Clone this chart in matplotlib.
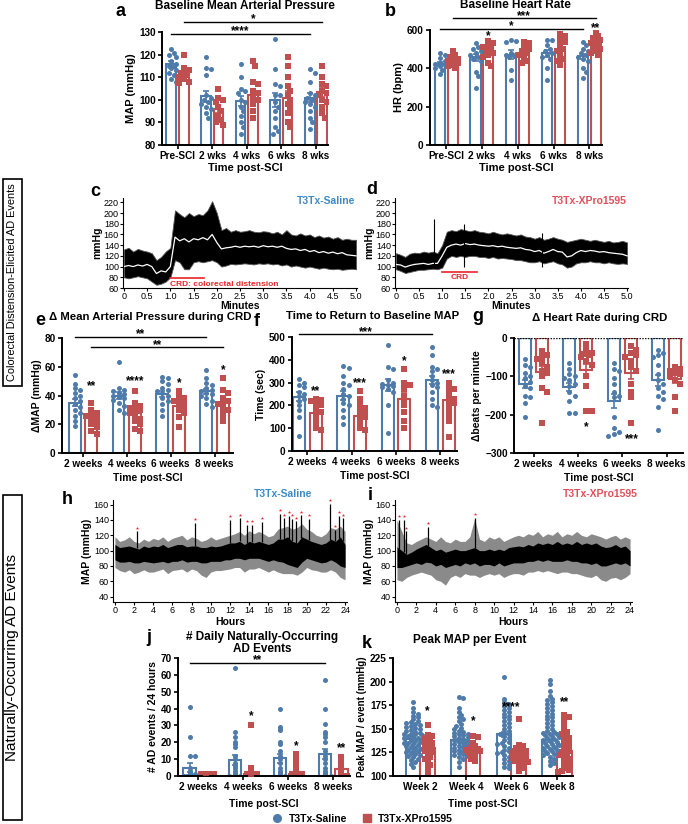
import numpy as np
import matplotlib
matplotlib.use("Agg")
import matplotlib.pyplot as plt
from matplotlib.lines import Line2D
from matplotlib.patches import Rectangle

plt.rcParams['font.family'] = ['Liberation Sans', 'DejaVu Sans']

BLUE = '#4f7bab'
RED = '#c0504f'
W, H = 688, 824

# ---------------- data ----------------
# a: baseline MAP
a_groups = ['Pre-SCI', '2 wks', '4 wks', '6 wks', '8 wks']
a_sal = [[122.5, 120.5, 120, 119, 117, 116, 115, 115, 114, 113, 112, 111, 109, 108],
         [119, 114, 113.5, 111, 102, 101, 100, 99, 98, 97, 96, 94, 92],
         [116, 110, 105, 104, 103, 100, 99, 97, 95, 93, 90, 88, 85],
         [127, 113.5, 107, 106, 102, 102, 99, 97, 95, 92, 88, 86, 85],
         [113.5, 112, 108, 103, 102, 101, 100, 99, 98, 97, 95, 92, 90, 87]]
a_xpro = [[120, 114, 113, 112, 111, 110, 109, 108, 107.5],
          [105, 101, 100, 99, 97, 95, 93, 91, 90, 89],
          [117, 115, 108, 107, 104, 103, 101, 100, 98, 95, 92],
          [119, 115, 110, 106, 104, 102, 100, 98, 96, 94, 90, 88],
          [115, 110, 107, 106, 104, 103, 102, 100, 99, 97, 94, 92]]
a_sal_mean = [116, 101.5, 99.5, 100, 101]
a_sal_sem = [1.2, 2.5, 2.2, 3.0, 1.8]
a_xpro_mean = [112.5, 96, 102, 101, 103.5]
a_xpro_sem = [1.2, 1.8, 2.5, 2.8, 2.2]

# b: baseline HR
b_groups = a_groups
b_sal = [[480, 470, 455, 440, 430, 425, 420, 410, 400, 390, 370],
         [530, 510, 500, 490, 480, 470, 460, 450, 440, 380, 360, 300],
         [550, 545, 540, 480, 475, 470, 465, 460, 390, 340],
         [550, 550, 520, 500, 490, 480, 470, 460, 450, 400, 340],
         [540, 520, 500, 490, 480, 470, 460, 450, 440, 400, 380, 350]]
b_xpro = [[490, 470, 460, 450, 445, 440, 430, 420, 410, 400],
          [545, 530, 520, 510, 500, 490, 480, 470, 460, 430, 410],
          [535, 530, 510, 500, 490, 480, 470, 460, 440, 430],
          [580, 570, 550, 540, 520, 500, 490, 470, 450, 440, 420],
          [590, 570, 560, 550, 540, 530, 520, 510, 500, 490, 480, 470]]
b_sal_mean = [422, 458, 472, 478, 462]
b_sal_sem = [10, 18, 22, 18, 15]
b_xpro_mean = [442, 492, 482, 500, 528]
b_xpro_sem = [10, 14, 12, 16, 12]

# c, d: example CRD traces (minutes, mmHg envelope + mean)
trace_min = [0.0, 0.1, 0.2, 0.3, 0.4, 0.5, 0.6, 0.7, 0.8, 0.9, 1.0, 1.1, 1.2, 1.3, 1.4, 1.5, 1.6,
             1.7, 1.8, 1.9, 2.0, 2.1, 2.2, 2.3, 2.4, 2.5, 2.6, 2.7, 2.8, 2.9, 3.0, 3.1, 3.2, 3.3,
             3.4, 3.5, 3.6, 3.7, 3.8, 3.9, 4.0, 4.1, 4.2, 4.3, 4.4, 4.5, 4.6, 4.7, 4.8, 4.9, 5.0]
c_hi = [132, 135, 128, 133, 130, 128, 125, 112, 118, 128, 135, 205, 198, 192, 200, 194, 198,
        196, 205, 222, 200, 168, 172, 165, 168, 165, 166, 168, 165, 164, 166, 165, 162, 165,
        160, 168, 160, 158, 162, 158, 160, 155, 158, 154, 156, 152, 155, 150, 152, 150, 150]
c_lo = [80, 78, 80, 82, 80, 78, 72, 66, 68, 72, 80, 112, 108, 95, 95, 108, 110,
        108, 110, 112, 108, 100, 102, 105, 104, 105, 106, 105, 104, 106, 105, 106, 104, 105,
        102, 104, 100, 102, 100, 98, 100, 98, 96, 98, 96, 95, 96, 94, 95, 96, 95]
c_mean = [100, 102, 100, 103, 101, 104, 100, 87, 92, 90, 100, 155, 148, 152, 146, 152, 150,
          154, 150, 160, 145, 133, 135, 136, 138, 136, 138, 137, 138, 136, 139, 137, 138, 136,
          138, 134, 132, 133, 130, 132, 128, 130, 126, 128, 125, 127, 124, 126, 122, 121, 120]
d_hi = [125, 122, 118, 124, 126, 125, 128, 126, 128, 125, 140, 165, 168, 166, 170, 168, 166,
        168, 165, 164, 162, 165, 162, 160, 162, 160, 158, 160, 156, 155, 152, 155, 150, 152,
        155, 152, 150, 146, 148, 150, 152, 150, 148, 150, 148, 146, 148, 145, 146, 148, 145]
d_lo = [95, 92, 88, 90, 92, 94, 94, 95, 96, 95, 98, 115, 120, 118, 120, 118, 120,
        120, 118, 118, 116, 118, 115, 116, 115, 114, 112, 112, 110, 108, 108, 110, 106, 108,
        110, 106, 104, 98, 100, 106, 108, 108, 110, 108, 108, 106, 108, 106, 105, 106, 105]
d_mean = [104, 103, 99, 102, 104, 105, 106, 104, 106, 106, 120, 136, 140, 142, 140, 143, 141,
          142, 140, 139, 138, 139, 137, 138, 136, 135, 134, 135, 132, 131, 128, 130, 125, 128,
          132, 128, 127, 118, 120, 126, 130, 128, 130, 129, 127, 128, 126, 125, 124, 123, 120]
d_spike_t = [0.83, 1.47, 3.15]
d_spike_v = [188, 180, 163]

# e: delta MAP during CRD
wk_groups = ['2 weeks', '4 weeks', '6 weeks', '8 weeks']
e_sal = [[54, 48, 45, 44, 42, 40, 38, 36, 34, 32, 30, 28, 26, 22, 19],
         [63, 45, 44, 43, 42, 41, 40, 39, 38, 37, 35, 33, 30, 28],
         [53, 52, 50, 48, 45, 44, 43, 42, 40, 38, 36, 34, 30, 26],
         [58, 52, 49, 47, 45, 44, 43, 42, 41, 40, 38, 36, 34, 32]]
e_xpro = [[35, 30, 28, 27, 26, 25, 24, 22, 20, 18, 15, 13],
          [43, 35, 33, 32, 31, 30, 29, 28, 26, 24, 22, 20, 17, 15],
          [43, 40, 38, 37, 36, 35, 34, 32, 30, 28, 25, 18],
          [52, 44, 42, 38, 36, 35, 34, 32, 30, 28, 25, 22]]
e_sal_mean = [35, 40, 41, 43]
e_sal_sem = [2.5, 2.3, 2.0, 1.8]
e_xpro_mean = [25, 27.5, 33, 35]
e_xpro_sem = [2.2, 2.0, 1.8, 2.5]

# f: time to return to baseline
f_sal = [[315, 300, 290, 280, 260, 250, 240, 230, 220, 200, 180, 150, 65],
         [375, 365, 330, 300, 290, 270, 250, 240, 230, 210, 200, 180, 150, 120],
         [465, 370, 360, 310, 300, 295, 290, 285, 280, 270, 260, 200, 80],
         [455, 420, 370, 360, 350, 330, 310, 300, 290, 280, 260, 230, 200, 195]]
f_xpro = [[230, 225, 220, 210, 200, 185, 170, 160, 140, 120, 100, 90],
          [265, 230, 200, 190, 180, 170, 160, 150, 140, 120, 100, 90],
          [360, 300, 290, 270, 240, 220, 200, 170, 130, 100],
          [300, 280, 270, 260, 240, 230, 220, 210, 200, 180, 160, 130, 60]]
f_sal_mean = [238, 243, 290, 310]
f_sal_sem = [20, 18, 25, 18]
f_xpro_mean = [165, 155, 230, 225]
f_xpro_sem = [14, 15, 25, 18]

# g: delta heart rate during CRD
g_sal = [[-55, -70, -75, -90, -100, -105, -115, -125, -130, -150, -155, -170, -205],
         [-65, -80, -95, -100, -105, -110, -120, -125, -140, -150, -165, -195, -195],
         [-65, -80, -85, -105, -120, -140, -150, -155, -205, -235, -245, -250, -255],
         [-30, -40, -45, -50, -70, -95, -110, -120, -130, -140, -150, -160, -180, -240]]
g_xpro = [[-35, -45, -50, -55, -65, -75, -85, -90, -100, -130, -140, -222],
          [-15, -30, -40, -42, -45, -50, -60, -70, -100, -125, -190, -190],
          [-20, -30, -40, -45, -50, -60, -75, -85, -120, -140, -155, -222],
          [-75, -80, -85, -90, -95, -100, -110, -120, -155, -190]]
g_sal_mean = [-120, -127, -165, -110]
g_sal_sem = [10, 10, 18, 14]
g_xpro_mean = [-88, -84, -90, -107]
g_xpro_sem = [15, 16, 17, 11]

# h, i: 24 h MAP traces (half-hour envelopes)
hours = [0.0, 0.5, 1.0, 1.5, 2.0, 2.5, 3.0, 3.5, 4.0, 4.5, 5.0, 5.5, 6.0, 6.5, 7.0, 7.5, 8.0, 8.5,
         9.0, 9.5, 10.0, 10.5, 11.0, 11.5, 12.0, 12.5, 13.0, 13.5, 14.0, 14.5, 15.0, 15.5, 16.0,
         16.5, 17.0, 17.5, 18.0, 18.5, 19.0, 19.5, 20.0, 20.5, 21.0, 21.5, 22.0, 22.5, 23.0, 23.5, 24.0]
h_out_hi = [118, 112, 114, 118, 112, 110, 115, 112, 116, 114, 118, 112, 116, 118, 120, 114, 118,
            116, 112, 114, 118, 114, 116, 118, 120, 122, 125, 120, 126, 122, 125, 122, 118, 120,
            128, 130, 132, 128, 130, 135, 128, 125, 120, 118, 122, 130, 128, 132, 125]
h_core_hi = [108, 104, 105, 106, 104, 102, 106, 104, 106, 105, 108, 104, 106, 108, 108, 105, 106,
             106, 104, 104, 106, 105, 106, 108, 110, 110, 112, 108, 112, 110, 112, 110, 108, 110,
             115, 115, 118, 112, 110, 118, 115, 112, 110, 108, 110, 115, 112, 118, 108]
h_core_lo = [88, 85, 85, 86, 84, 84, 86, 85, 84, 85, 86, 84, 86, 86, 88, 85, 86,
             86, 84, 84, 86, 86, 86, 88, 88, 90, 90, 88, 90, 90, 90, 88, 86, 88,
             86, 85, 82, 80, 78, 85, 90, 88, 86, 84, 85, 88, 85, 80, 78]
h_out_lo = [78, 74, 72, 75, 70, 72, 75, 72, 72, 74, 76, 70, 74, 75, 76, 72, 76,
            74, 68, 65, 72, 74, 74, 75, 76, 78, 78, 72, 76, 76, 78, 75, 72, 75,
            72, 70, 70, 70, 68, 72, 78, 75, 74, 72, 72, 75, 72, 65, 62]
h_event_t = [2.3, 8.4, 12.0, 13.0, 13.8, 14.3, 15.3, 17.2, 17.6, 18.2, 18.5, 18.9, 19.4, 20.2,
             22.4, 22.9, 23.4, 23.8]
h_event_v = [130, 141, 145, 147, 138, 138, 142, 153, 147, 150, 146, 143, 151, 146, 166, 132, 150, 147]

i_out_hi = [140, 125, 110, 108, 112, 115, 118, 115, 112, 118, 112, 110, 115, 112, 112, 118, 142,
            115, 112, 118, 115, 118, 112, 115, 118, 120, 118, 122, 120, 125, 118, 122, 120, 125,
            118, 122, 120, 125, 120, 118, 122, 120, 118, 115, 118, 120, 115, 118, 115]
i_core_hi = [105, 100, 95, 98, 102, 105, 108, 104, 100, 102, 98, 100, 102, 100, 100, 102, 104,
             100, 100, 102, 100, 102, 100, 104, 105, 106, 105, 108, 106, 110, 108, 110, 108, 112,
             108, 110, 108, 112, 108, 110, 108, 110, 106, 104, 105, 108, 104, 106, 100]
i_core_lo = [78, 78, 80, 82, 84, 82, 85, 84, 80, 82, 78, 80, 82, 80, 84, 82, 84,
             80, 82, 82, 80, 84, 80, 82, 84, 84, 84, 86, 86, 88, 86, 88, 86, 86,
             86, 88, 86, 86, 84, 84, 82, 84, 80, 80, 82, 84, 82, 84, 80]
i_out_lo = [62, 60, 65, 68, 70, 72, 70, 68, 62, 60, 55, 65, 68, 65, 70, 68, 68,
            65, 68, 70, 68, 70, 65, 68, 70, 70, 68, 72, 72, 74, 72, 74, 72, 70,
            72, 72, 70, 70, 68, 66, 65, 68, 62, 60, 64, 65, 62, 65, 70]
i_event_t = [0.25, 0.7, 0.9, 3.2, 8.0]
i_event_v = [145, 145, 130, 136, 148]

# j: daily naturally occurring AD events
j_sal = [[41, 23, 12, 12, 5, 3, 2, 1, 1, 0, 0, 0, 0, 0, 0],
         [64, 26, 23, 20, 19, 17, 12, 10, 8, 6, 5, 3, 2, 1, 0, 0, 0],
         [40, 29, 28, 27, 20, 19, 15, 12, 10, 8, 5, 3, 2, 1, 0, 0],
         [57, 40, 31, 26, 25, 23, 20, 15, 12, 10, 8, 5, 3, 2, 1, 0, 0]]
j_xpro = [[1, 1, 1, 1, 1, 1, 0, 0, 0, 0],
          [30, 5, 4, 3, 2, 1, 1, 0, 0, 0, 0],
          [13, 11, 8, 4, 3, 2, 1, 1, 0, 0, 0],
          [11, 9, 8, 6, 5, 4, 3, 2, 1, 0, 0]]
j_sal_mean = [5, 9.5, 10.5, 13]
j_sal_sem = [2.5, 3.2, 2.8, 3.2]
j_xpro_mean = [1, 2.5, 2.5, 4]
j_xpro_sem = [0.3, 2.5, 1.2, 1.0]

# k: peak MAP per event
k_groups = ['Week 2', 'Week 4', 'Week 6', 'Week 8']
k_sal = [[178, 172, 168, 166, 164, 162, 160, 158, 157, 156, 155, 154, 153, 152, 151, 150, 149, 148,
          147, 146, 145, 145, 144, 143, 142, 141, 140, 140, 139, 138, 137, 136, 135, 135, 134, 133,
          132, 131, 130, 129, 128, 127, 126, 125, 124, 123, 122, 121, 120, 118, 117, 115, 113, 110],
         [184, 183, 172, 168, 165, 162, 160, 158, 155, 153, 151, 150, 148, 147, 146, 145, 144, 143,
          142, 141, 140, 139, 138, 137, 136, 135, 134, 133, 132, 131, 130, 129, 128, 127, 126, 125,
          124, 123, 122, 121, 120, 118, 115, 110],
         [205, 182, 178, 176, 174, 172, 170, 168, 166, 164, 162, 160, 158, 156, 154, 152, 150, 148,
          146, 145, 144, 142, 140, 138, 136, 135, 134, 132, 130, 128, 126, 125, 124, 122, 120, 118,
          116, 114, 112, 110, 108],
         [202, 197, 190, 185, 182, 180, 178, 176, 174, 172, 170, 168, 166, 164, 162, 160, 158, 156,
          154, 152, 150, 148, 147, 146, 145, 144, 143, 142, 141, 140, 139, 138, 137, 136, 135, 134,
          133, 132, 131, 130, 129, 128, 127, 126, 125, 124, 123, 122, 120, 118, 116, 114, 112]]
k_xpro = [[154, 143, 142, 140, 138, 136, 135, 133, 131, 130, 128, 126, 125, 123, 120, 118, 115, 112, 108, 103],
          [142, 141, 135, 132, 130, 129, 128, 127, 126, 125, 124, 122, 120, 118, 116],
          [160, 133, 132, 130, 128, 127, 126, 125, 124, 122, 121, 120, 119, 118, 117, 116, 115, 114,
           112, 110, 108, 105],
          [165, 163, 160, 155, 150, 147, 145, 142, 140, 137, 135, 132, 130, 128, 126, 125, 123, 122,
           120, 118, 116, 114, 112, 110, 108, 106, 105, 104]]
k_sal_mean = [139, 138, 144, 138]
k_sal_sem = [1.2, 1.5, 2.2, 1.5]
k_xpro_mean = [130, 129, 122, 127]
k_xpro_sem = [2.5, 2.2, 2.0, 2.8]

# ---------------- helpers ----------------
fig = plt.figure(figsize=(W / 100, H / 100), dpi=100)


def px_axes(left, top, right, bottom):
    return fig.add_axes([left / W, 1 - bottom / H, (right - left) / W, (bottom - top) / H])


def swarm(vals, dy, dx, maxw):
    # simple beeswarm: place each point at the nearest free horizontal slot
    vals = np.asarray(vals, float)
    offs = np.zeros(len(vals))
    step = dx * 0.5
    cands = [0.0]
    k = 1
    while k * step <= maxw + 1e-9:
        cands += [k * step, -k * step]
        k += 1
    placed = []
    for i in np.argsort(vals)[::-1]:
        best, bestd = cands[0], -1
        for c in cands:
            d = min([np.hypot((c - o) / dx, (vals[i] - v) / dy) for o, v in placed] or [9])
            if d >= 0.9:
                best = c
                break
            if d > bestd:
                best, bestd = c, d
        offs[i] = best
        placed.append((best, vals[i]))
    return offs


def style(ax, fs=7.2):
    for s in ['top', 'right']:
        ax.spines[s].set_visible(False)
    for s in ['left', 'bottom']:
        ax.spines[s].set_linewidth(1.4)
    ax.tick_params(width=1.2, length=3, labelsize=fs, pad=1.5)
    for lab in ax.get_xticklabels() + ax.get_yticklabels():
        lab.set_fontweight('bold')


def bar_panel(ax, groups, sal, xpro, sm, ss, xm, xs, off, width, dy, dx, ms=13, spread=0.6):
    for gi in range(len(groups)):
        for pts, mean, sem, col, mk, sign in [(sal[gi], sm[gi], ss[gi], BLUE, 'o', -1),
                                              (xpro[gi], xm[gi], xs[gi], RED, 's', 1)]:
            x = gi + sign * off
            ax.bar(x, mean, width, facecolor='white', edgecolor=col, linewidth=1.5, zorder=1)
            o = swarm(pts, dy, dx, width * spread)
            ax.scatter(x + o, pts, s=ms, marker=mk, color=col, zorder=2, linewidths=0)
            ax.errorbar(x, mean, yerr=sem, color=col, capsize=2.5, lw=1.2, capthick=1.2, zorder=3)
    ax.set_xticks(range(len(groups)))
    ax.set_xticklabels(groups)


def star(ax, x, y, txt, fs=8.5):
    ax.annotate(txt, (x, y), xytext=(0, -2.5), textcoords='offset points', ha='center', va='bottom',
                fontsize=fs, fontweight='bold', annotation_clip=False)


def sig(ax, x0, x1, y, txt, fs=8.5):
    ax.plot([x0, x1], [y, y], color='black', lw=1, clip_on=False)
    star(ax, (x0 + x1) / 2, y, txt, fs)


def letter(x, y, s):
    fig.text(x / W, 1 - y / H, s, fontsize=13, fontweight='bold', va='center', ha='left')


def title(x, y, s, fs=8.5):
    fig.text(x / W, 1 - y / H, s, fontsize=fs, fontweight='bold', ha='center', va='center',
             linespacing=1.05)


# ---------------- a ----------------
ax = px_axes(162, 32, 328, 145)
bar_panel(ax, a_groups, a_sal, a_xpro, a_sal_mean, a_sal_sem, a_xpro_mean, a_xpro_sem,
          0.18, 0.28, 2.3, 0.14)
ax.set_ylim(80, 130)
ax.set_xlim(-0.45, 4.35)
ax.set_yticks(range(80, 131, 10))
ax.set_ylabel('MAP (mmHg)', fontsize=8, fontweight='bold', labelpad=2)
ax.set_xlabel('Time post-SCI', fontsize=8, fontweight='bold', labelpad=1)
style(ax)
sig(ax, -0.18, 3.82, 129.3, '****')
sig(ax, 0.18, 4.18, 134.5, '*')
letter(116, 12, 'a')
title(245, 6, 'Baseline Mean Arterial Pressure')

# ---------------- b ----------------
ax = px_axes(430, 30, 602, 145)
bar_panel(ax, b_groups, b_sal, b_xpro, b_sal_mean, b_sal_sem, b_xpro_mean, b_xpro_sem,
          0.18, 0.28, 26, 0.14)
ax.set_ylim(0, 600)
ax.set_xlim(-0.45, 4.35)
ax.set_yticks([0, 200, 400, 600])
ax.set_ylabel('HR (bpm)', fontsize=8, fontweight='bold', labelpad=2)
ax.set_xlabel('Time post-SCI', fontsize=8, fontweight='bold', labelpad=1)
style(ax)
sig(ax, -0.18, 3.82, 607, '*')
sig(ax, 0.18, 4.18, 660, '***')
star(ax, 1.18, 555, '*')
star(ax, 4.18, 595, '**')
letter(385, 12, 'b')
title(515, 5, 'Baseline Heart Rate')


# ---------------- c, d ----------------
def trace_panel(ax, hi, lo, mean):
    ax.fill_between(trace_min, lo, hi, color='black', lw=0.6, edgecolor='#555555')
    ax.plot(trace_min, mean, color='white', lw=0.9)
    ax.set_xlim(-0.02, 5.02)
    ax.set_ylim(60, 228)
    ax.set_yticks(range(60, 221, 20))
    ax.set_xticks(np.arange(0, 5.01, 0.5))
    ax.set_xticklabels(['0'] + ['%.1f' % v for v in np.arange(0.5, 5.01, 0.5)])
    for s in ['top', 'right']:
        ax.spines[s].set_visible(False)
    ax.tick_params(labelsize=6.5, length=2, pad=1)
    ax.set_ylabel('mmHg', fontsize=7.5, fontweight='bold', labelpad=1)
    ax.set_xlabel('Minutes', fontsize=7.5, fontweight='bold', labelpad=0)


ax = px_axes(123, 198, 357, 288)
trace_panel(ax, c_hi, c_lo, c_mean)
ax.plot([1.0, 1.72], [79, 79], color='#e8242b', lw=1.2)
ax.text(1.0, 64, 'CRD: colorectal distension', color='#e8242b', fontsize=6, fontweight='bold')
ax.text(4.98, 222, 'T3Tx-Saline', color='#3c8ac8', fontsize=7.5, fontweight='bold', ha='right', va='center')
letter(90, 192, 'c')

ax = px_axes(395, 198, 628, 288)
trace_panel(ax, d_hi, d_lo, d_mean)
ax.vlines(d_spike_t, 100, d_spike_v, color='black', lw=0.8)
ax.plot([1.0, 1.75], [89, 89], color='#e8242b', lw=1.2)
ax.text(1.37, 77, 'CRD', color='#e8242b', fontsize=6, fontweight='bold', ha='center')
ax.text(5.0, 222, 'T3Tx-XPro1595', color='#e0505a', fontsize=7.5, fontweight='bold', ha='right', va='center')
letter(366, 190, 'd')

# ---------------- e ----------------
ax = px_axes(62, 338, 233, 453)
bar_panel(ax, wk_groups, e_sal, e_xpro, e_sal_mean, e_sal_sem, e_xpro_mean, e_xpro_sem,
          0.19, 0.27, 3.2, 0.12)
ax.set_ylim(0, 80)
ax.set_xlim(-0.48, 3.42)
ax.set_yticks(range(0, 81, 20))
ax.set_ylabel('ΔMAP (mmHg)', fontsize=7.5, fontweight='bold', labelpad=2)
ax.set_xlabel('Time post-SCI', fontsize=7.5, fontweight='bold', labelpad=3)
style(ax)
sig(ax, -0.19, 2.81, 81, '**')
sig(ax, 0.19, 3.19, 73.5, '**')
star(ax, 0.19, 45, '**')
star(ax, 1.19, 48, '****')
star(ax, 2.19, 47, '*')
star(ax, 3.19, 56, '*')
letter(35, 320, 'e')
title(150, 317, 'Δ Mean Arterial Pressure during CRD', fs=8.2)

# ---------------- f ----------------
ax = px_axes(292, 337, 457, 451)
bar_panel(ax, wk_groups, f_sal, f_xpro, f_sal_mean, f_sal_sem, f_xpro_mean, f_xpro_sem,
          0.19, 0.27, 21, 0.12)
ax.set_ylim(0, 500)
ax.set_xlim(-0.35, 3.38)
ax.set_yticks(range(0, 501, 100))
ax.set_ylabel('Time (sec)', fontsize=7.5, fontweight='bold', labelpad=2)
ax.set_xlabel('Time post-SCI', fontsize=7.5, fontweight='bold', labelpad=3)
style(ax)
sig(ax, -0.19, 2.81, 511, '***')
star(ax, 0.19, 250, '**')
star(ax, 1.19, 288, '***')
star(ax, 2.19, 385, '*')
star(ax, 3.19, 325, '***')
letter(254, 321, 'f')
title(373, 316, 'Time to Return to Baseline MAP', fs=8.2)

# ---------------- g ----------------
ax = px_axes(514, 338, 683, 453)
bar_panel(ax, wk_groups, g_sal, g_xpro, g_sal_mean, g_sal_sem, g_xpro_mean, g_xpro_sem,
          0.19, 0.27, 14, 0.12)
ax.set_ylim(-300, 0)
ax.set_xlim(-0.44, 3.37)
ax.set_yticks([0, -100, -200, -300])
ax.axhline(0, color='black', lw=1, ls=(0, (1, 1)), zorder=4)
ax.set_ylabel('Δbeats per minute', fontsize=7.5, fontweight='bold', labelpad=2)
ax.set_xlabel('Time post-SCI', fontsize=7.5, fontweight='bold', labelpad=3)
style(ax)
star(ax, 1.19, -240, '*')
star(ax, 2.22, -270, '***')
letter(472, 316, 'g')
title(600, 318, 'Δ Heart Rate during CRD', fs=8.2)


# ---------------- h, i ----------------
def day_panel(ax, ohi, chi, clo, olo, et, ev):
    ax.fill_between(hours, olo, ohi, color='#8a8a8a', lw=0)
    ax.fill_between(hours, clo, chi, color='black', lw=0)
    core = np.interp(et, hours, chi)
    ax.vlines(et, core, np.array(ev) - 5, color='black', lw=0.9)
    ax.scatter(et, ev, marker='*', s=6, color='#e8242b', linewidths=0, clip_on=False, zorder=5)
    ax.set_xlim(-0.2, 24.2)
    ax.set_ylim(33, 166)
    ax.set_yticks(range(40, 161, 20))
    ax.set_xticks(range(0, 25, 2))
    for s in ['top', 'right']:
        ax.spines[s].set_visible(False)
    ax.tick_params(labelsize=6.5, length=2, pad=1)
    ax.set_ylabel('MAP (mmHg)', fontsize=7.5, fontweight='bold', labelpad=1)
    ax.set_xlabel('Hours', fontsize=7.5, fontweight='bold', labelpad=1)


ax = px_axes(113, 500, 347, 602)
day_panel(ax, h_out_hi, h_core_hi, h_core_lo, h_out_lo, h_event_t, h_event_v)
fig.text(283 / W, 1 - 494 / H, 'T3Tx-Saline', color='#3c8ac8', fontsize=7.5, fontweight='bold',
         ha='center', va='center')
letter(62, 500, 'h')

ax = px_axes(395, 500, 632, 602)
day_panel(ax, i_out_hi, i_core_hi, i_core_lo, i_out_lo, i_event_t, i_event_v)
fig.text(600 / W, 1 - 494 / H, 'T3Tx-XPro1595', color='#e0505a', fontsize=7.5, fontweight='bold',
         ha='center', va='center')
letter(368, 496, 'i')

# ---------------- j ----------------
ax = px_axes(178, 658, 350, 776)
bar_panel(ax, wk_groups, j_sal, j_xpro, j_sal_mean, j_sal_sem, j_xpro_mean, j_xpro_sem,
          0.18, 0.28, 1.0, 0.12, spread=0.7)
ax.set_ylim(0, 70)
ax.set_xlim(-0.44, 3.37)
ax.set_yticks(range(0, 71, 10))
ax.set_ylabel('# AD events / 24 hours', fontsize=7.5, fontweight='bold', labelpad=2)
ax.set_xlabel('Time post-SCI', fontsize=7.5, fontweight='bold', labelpad=5)
style(ax)
sig(ax, -0.18, 2.82, 67, '**')
star(ax, 1.18, 34, '*')
star(ax, 2.18, 16.5, '*')
star(ax, 3.18, 15, '**')
letter(146, 638, 'j')
title(262, 643, '# Daily Naturally-Occurring\nAD Events')

# ---------------- k ----------------
ax = px_axes(393, 658, 573, 776)
bar_panel(ax, k_groups, k_sal, k_xpro, k_sal_mean, k_sal_sem, k_xpro_mean, k_xpro_sem,
          0.16, 0.32, 3.5, 0.1, spread=0.78)
ax.set_ylim(100, 225)
ax.set_xlim(-0.6, 3.35)
ax.set_yticks(range(100, 226, 25))
ax.set_ylabel('Peak MAP / event (mmHg)', fontsize=7, fontweight='bold', labelpad=2)
ax.set_xlabel('Time post-SCI', fontsize=7.5, fontweight='bold', labelpad=5)
style(ax)
star(ax, 0.16, 166, '*')
star(ax, 1.16, 155, '*')
star(ax, 2.0, 170, '****')
star(ax, 3.16, 176, '**')
letter(362, 643, 'k')
title(470, 640, 'Peak MAP per Event')

# ---------------- side labels + legend ----------------
for y0, y1, txt, fs in [(179, 386, 'Colorectal Distension-Elicited AD Events', 7.9),
                        (495, 820, 'Naturally-Occurring AD Events', 11)]:
    fig.patches.append(Rectangle((3 / W, 1 - y1 / H), 19 / W, (y1 - y0) / H, transform=fig.transFigure,
                                 facecolor='none', edgecolor='black', lw=1.2))
    fig.text(12.5 / W, 1 - (y0 + y1) / 2 / H, txt, rotation=90, ha='center', va='center', fontsize=fs)

handles = [Line2D([], [], marker='o', color=BLUE, ls='none', markersize=5.5, label='T3Tx-Saline'),
           Line2D([], [], marker='s', color=RED, ls='none', markersize=5.5, label='T3Tx-XPro1595')]
fig.legend(handles=handles, loc='center', bbox_to_anchor=(360 / W, 1 - 819 / H), ncol=2, frameon=False,
           handletextpad=0.1, columnspacing=0.9, prop={'weight': 'bold', 'size': 7.5})

fig.savefig('out.png', dpi=100)
